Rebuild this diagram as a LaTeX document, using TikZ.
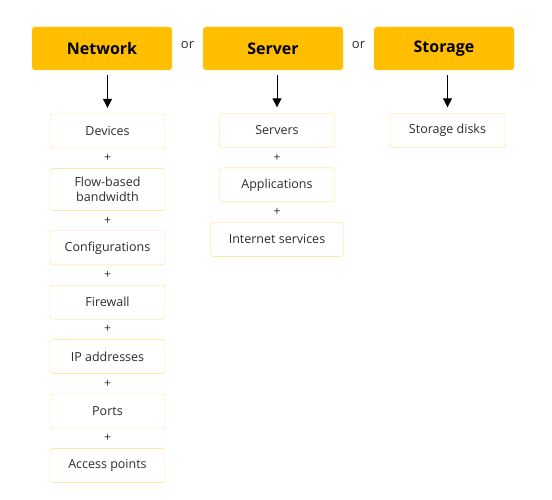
\documentclass[tikz,border=0pt]{standalone}
\usepackage{fontspec}
\setmainfont{Open Sans}
\usepackage{xcolor}
\usetikzlibrary{positioning,arrows.meta}
\definecolor{amber}{RGB}{255,190,0}
\definecolor{paleline}{RGB}{255,222,120}
\definecolor{ink}{RGB}{45,45,45}

\tikzset{
  head/.style={fill=amber, draw=amber!70, rounded corners=3pt, minimum width=140pt, minimum height=43pt, font=\fontsize{16}{18}\selectfont\bfseries, text=black},
  item/.style={draw=paleline, fill=white, rounded corners=2.5pt, minimum width=115pt, minimum height=34pt, font=\fontsize{12.5}{15}\selectfont, text=ink, align=center},
  plus/.style={font=\fontsize{12}{14}\selectfont, text=ink},
  word/.style={font=\fontsize{13}{15}\selectfont, text=ink},
  down/.style={-{Triangle[width=9pt,length=9pt]}, line width=1pt, shorten <=5pt, shorten >=6pt}
}

\begin{document}
\begin{tikzpicture}[x=1pt, y=-1pt, node distance=20pt]
\useasboundingbox (0,0) rectangle (552,500);
% headers
\node[head] (network) at (102,48.5) {Network};
\node[head] (server) at (273,48.5) {Server};
\node[head] (storage) at (444,48.5) {Storage};
\path (network) -- node[word, yshift=3pt] {or} (server);
\path (server) -- node[word, yshift=3pt] {or} (storage);

% network column
\node[item] (devices) at (107.5,131) {Devices};
\node[item, below=of devices, minimum height=42pt] (flow) {Flow-based\\bandwidth};
\node[item, below=of flow] (config) {Configurations};
\node[item, below=of config] (firewall) {Firewall};
\node[item, below=of firewall] (ip) {IP addresses};
\node[item, below=of ip] (ports) {Ports};
\node[item, below=of ports] (access) {Access points};

% server column
\node[item] (servers) at (277,130.5) {Servers};
\node[item, below=of servers] (apps) {Applications};
\node[item, below=of apps, minimum width=133pt] (inet) {Internet services};

% storage column
\node[item] (disks) at (447.5,130.5) {Storage disks};

% arrows
\draw[down] (network.south -| devices.north) -- (devices.north);
\draw[down] (server.south -| servers.north) -- (servers.north);
\draw[down] (storage.south -| disks.north) -- (disks.north);

% plus signs
\path (devices.south) -- node[plus] {+} (flow.north);
\path (flow.south) -- node[plus] {+} (config.north);
\path (config.south) -- node[plus] {+} (firewall.north);
\path (firewall.south) -- node[plus] {+} (ip.north);
\path (ip.south) -- node[plus] {+} (ports.north);
\path (ports.south) -- node[plus] {+} (access.north);
\path (servers.south) -- node[plus] {+} (apps.north);
\path (apps.south) -- node[plus] {+} (inet.north);
\end{tikzpicture}
\end{document}
